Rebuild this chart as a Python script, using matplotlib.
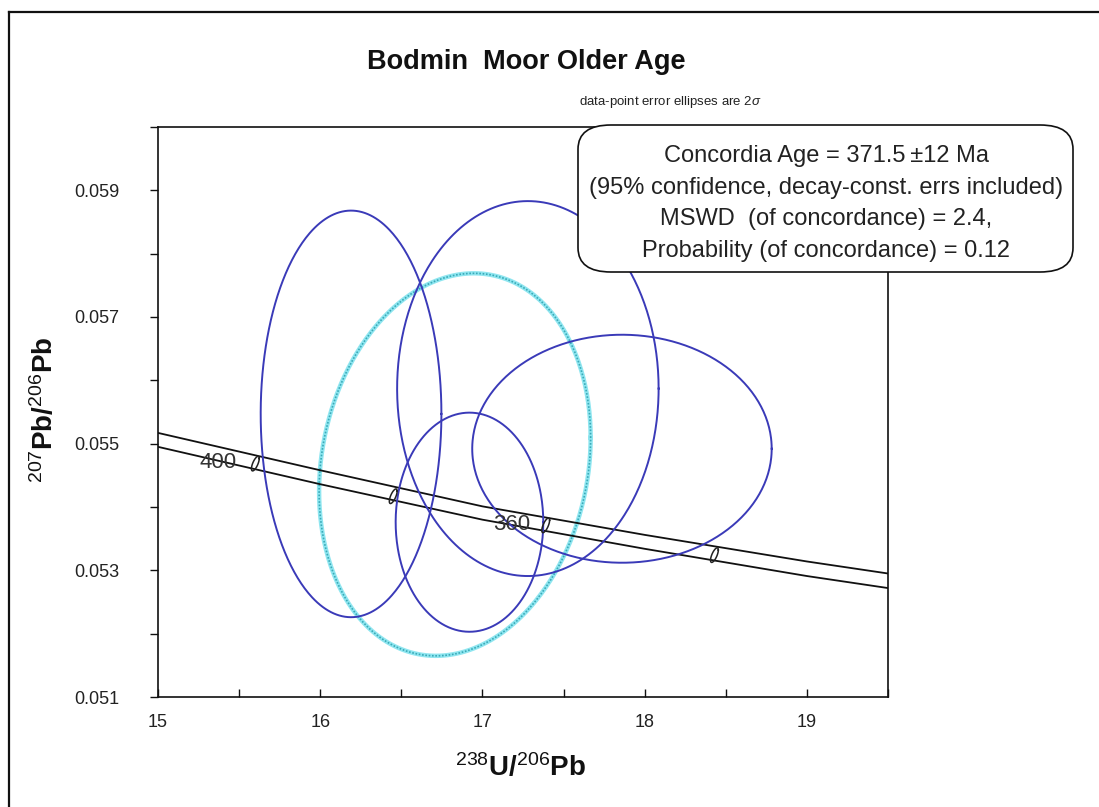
import numpy as np
import matplotlib
matplotlib.use("Agg")
import matplotlib.pyplot as plt
from matplotlib.patches import FancyBboxPatch
from matplotlib.lines import Line2D
from matplotlib.ticker import MultipleLocator

plt.rcParams['font.family'] = ['Liberation Sans', 'DejaVu Sans']
plt.rcParams['mathtext.fontset'] = 'custom'
plt.rcParams['mathtext.rm'] = 'Liberation Sans'
plt.rcParams['mathtext.bf'] = 'Liberation Sans:bold'
plt.rcParams['mathtext.it'] = 'Liberation Sans:italic'

# ---- data ----
title = "Bodmin  Moor Older Age"
x_ticks = [15, 16, 17, 18, 19]
y_ticks = [0.051, 0.053, 0.055, 0.057, 0.059]

# concordia band (two envelope lines)
band_x = [15.0, 16.0, 17.0, 18.0, 19.0, 19.5]
band_upper = [0.05517, 0.05458, 0.05401, 0.05356, 0.05314, 0.05295]
band_lower = [0.05495, 0.05436, 0.05380, 0.05334, 0.05291, 0.05272]

# age markers on concordia
marker_ages = [400, 380, 360, 340]
marker_x = [15.60, 16.45, 17.39, 18.43]
marker_y = [0.054685, 0.05417, 0.05371, 0.05324]
labelled_ages = ["400", "360"]
label_x = [15.37, 17.18]
label_y = [0.05470, 0.05373]

# data-point error ellipses: centre, half-extents, correlation
ell_cx = [16.19, 17.28, 17.86, 16.92]
ell_cy = [0.05547, 0.05587, 0.05492, 0.05376]
ell_ax = [0.557, 0.806, 0.923, 0.455]
ell_ay = [0.00321, 0.00296, 0.00180, 0.00173]
ell_rho = [0.0, 0.0, 0.0, 0.0]

# concordia age ellipse (cyan)
age_cx, age_cy = 16.83, 0.05467
age_ax, age_ay, age_rho = 0.837, 0.00302, 0.14

box_lines = ["Concordia Age = 371.5\u2009\u00b112 Ma",
             "(95% confidence, decay-const. errs included)",
             "MSWD  (of concordance) = 2.4,",
             "Probability (of concordance) = 0.12"]


def ellipse_xy(cx, cy, ax_, ay_, rho, n=400):
    t = np.linspace(0, 2 * np.pi, n)
    x = cx + ax_ * np.cos(t)
    y = cy + ay_ * (rho * np.cos(t) + np.sqrt(1 - rho ** 2) * np.sin(t))
    return x, y


W, H = 1099, 807
fig = plt.figure(figsize=(W / 100, H / 100), dpi=100)
fig.patch.set_facecolor('white')

L, R, B, T = 158, 888, 697, 127
ax = fig.add_axes([L / W, 1 - B / H, (R - L) / W, (B - T) / H])
ax.set_xlim(15, 19.5)
ax.set_ylim(0.051, 0.060)

for s in ax.spines.values():
    s.set_linewidth(1.2)
    s.set_color('#111111')

ax.xaxis.set_minor_locator(MultipleLocator(0.5))
ax.yaxis.set_minor_locator(MultipleLocator(0.001))
ax.set_xticks(x_ticks)
ax.set_xticklabels([str(v) for v in x_ticks])
ax.set_yticks(y_ticks)
ax.set_yticklabels([f"{v:.3f}" for v in y_ticks])
ax.tick_params(axis='x', which='both', direction='in', length=6, width=1.0,
               labelsize=13, pad=12, colors='#111111', labelcolor='#222222')
ax.tick_params(axis='y', which='both', direction='out', length=6, width=1.0,
               labelsize=13, pad=22, colors='#111111', labelcolor='#222222')

# concordia band
ax.plot(band_x, band_upper, color='#111111', lw=1.3, zorder=3)
ax.plot(band_x, band_lower, color='#111111', lw=1.3, zorder=3)

# age markers (small tilted ellipses)
for mx, my in zip(marker_x, marker_y):
    ex, ey = ellipse_xy(mx, my, 0.024, 0.000115, 0.7, 60)
    ax.plot(ex, ey, color='#222222', lw=1.1, zorder=4)

for lab, lx, ly in zip(labelled_ages, label_x, label_y):
    ax.text(lx, ly, lab, fontsize=16, color='#333333', ha='center', va='center', zorder=4)

# concordia age ellipse
cx_, cy_ = ellipse_xy(age_cx, age_cy, age_ax, age_ay, age_rho)
ax.plot(cx_, cy_, color='#8fe6f0', lw=3.2, zorder=2)
ax.plot(cx_, cy_, color='#3aaab8', lw=1.2, ls=(0, (1, 1)), zorder=2)

# data-point ellipses
for cx, cy, a, b, r in zip(ell_cx, ell_cy, ell_ax, ell_ay, ell_rho):
    ex, ey = ellipse_xy(cx, cy, a, b, r)
    ax.plot(ex, ey, color='#3a3ab8', lw=1.4, zorder=3)

# labels
fig.text(526 / W, 1 - 62 / H, title, fontsize=19.5, fontweight='bold',
         ha='center', va='center', color='#111111')
fig.text(520 / W, 1 - 768 / H, r'$^{238}\mathbf{U/}^{206}\mathbf{Pb}$',
         fontsize=20, ha='center', va='center', color='#111111')
fig.text(45 / W, 1 - 410 / H, r'$^{207}\mathbf{Pb/}^{206}\mathbf{Pb}$',
         fontsize=20, ha='center', va='center', rotation=90, color='#111111')

fig.text(670 / W, 1 - 102 / H, r'data-point error ellipses are 2$\sigma$',
         fontsize=9.5, ha='center', va='center', color='#222222')

# annotation box
box = FancyBboxPatch((578 / W, 1 - 272 / H), (1073 - 578) / W, (272 - 125) / H,
                     boxstyle="round,pad=0,rounding_size=0.03",
                     transform=fig.transFigure, facecolor='white',
                     edgecolor='#111111', lw=1.2, zorder=10)
fig.add_artist(box)
for i, line in enumerate(box_lines):
    fig.text(826 / W, 1 - (156 + i * 31.7) / H, line, fontsize=17,
             ha='center', va='center', color='#222222', zorder=11)

# outer frame (left and top edges)
fig.add_artist(Line2D([9 / W, 9 / W], [0, 1 - 12 / H], transform=fig.transFigure,
                      color='#111111', lw=1.6))
fig.add_artist(Line2D([9 / W, 1], [1 - 12 / H, 1 - 12 / H], transform=fig.transFigure,
                      color='#111111', lw=1.6))

fig.savefig('out.png', dpi=100)
